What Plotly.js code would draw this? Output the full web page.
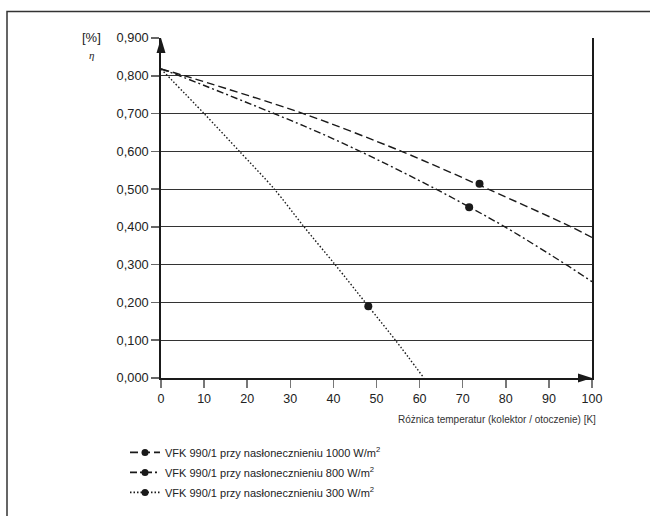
<!DOCTYPE html>
<html>
<head>
<meta charset="utf-8">
<script src="https://cdn.plot.ly/plotly-3.0.1.min.js"></script>
<style>html,body{margin:0;padding:0;background:#fff;}#chart{width:650px;height:516px;}</style>
</head>
<body>
<div id="chart"></div>
<script>
// Readings from the reference (ΔT in K, efficiency η)
var x1000 = [0, 5.5, 33, 55.8, 75.9, 95.2, 100];
var y1000 = [0.818, 0.8, 0.7, 0.6, 0.5, 0.4, 0.372];
var x800 = [0, 4.3, 33, 46.2, 63.8, 79.8, 94.0, 100];
var y800 = [0.818, 0.8, 0.668, 0.6, 0.5, 0.4, 0.3, 0.255];
var x300 = [0, 10, 18.2, 26.3, 33.2, 40.4, 48.1, 54.4, 61];
var y300 = [0.818, 0.7, 0.6, 0.5, 0.4, 0.3, 0.19, 0.1, 0];
var markerX = [73.9, 71.5, 48.1];
var markerY = [0.514, 0.452, 0.19];
var seriesNames = [
  'VFK 990/1 przy nasłonecznieniu 1000 W/m<sup>2</sup>',
  'VFK 990/1 przy nasłonecznieniu 800 W/m<sup>2</sup>',
  'VFK 990/1 przy nasłonecznieniu 300 W/m<sup>2</sup>'
];
var xTicks = [0, 10, 20, 30, 40, 50, 60, 70, 80, 90, 100];
var yTicks = [0, 0.1, 0.2, 0.3, 0.4, 0.5, 0.6, 0.7, 0.8, 0.9];
var xTitle = 'Różnica temperatur (kolektor / otoczenie) [K]';

var ink = '#1a1a1a';
var dashes = ['8px,4px', '7px,3px,2px,3px', '1.5px,2px'];
var xs = [x1000, x800, x300], ys = [y1000, y800, y300];

var data = [];
for (var i = 0; i < 3; i++) {
  data.push({x: xs[i], y: ys[i], mode: 'lines', type: 'scatter', showlegend: false,
    line: {color: ink, width: 1.4, dash: dashes[i], shape: 'spline', smoothing: 0.8},
    hoverinfo: 'skip'});
}
data.push({x: markerX, y: markerY, mode: 'markers', type: 'scatter', showlegend: false,
  marker: {color: ink, size: 8}});
for (var j = 0; j < 3; j++) {
  data.push({x: [null], y: [null], mode: 'lines+markers', type: 'scatter', name: seriesNames[j],
    legendgroup: 'g' + j,
    line: {color: ink, width: 1.6, dash: dashes[j]}, marker: {color: ink, size: 7}});
}

function px2x(p) { return (p - 161) / 431; }
function py2y(p) { return (378 - p) / 340.5; }

var layout = {
  width: 650, height: 516,
  margin: {l: 161, r: 58, t: 37.5, b: 138, autoexpand: false},
  paper_bgcolor: '#fff', plot_bgcolor: '#fff',
  font: {family: 'Liberation Sans, Arial, sans-serif', color: '#222', size: 12},
  separators: ', ',
  xaxis: {range: [0, 100], tickvals: xTicks, ticks: 'outside', ticklen: 8, tickwidth: 1.5,
    tickcolor: '#777', showgrid: false, zeroline: false, showline: true, linecolor: ink,
    linewidth: 1.5, tickfont: {size: 12.5, color: '#222'}, fixedrange: true, automargin: false},
  yaxis: {range: [0, 0.9], tickvals: yTicks, tickformat: '.3f', ticks: 'outside', ticklen: 8,
    tickwidth: 1.5, tickcolor: '#666', showgrid: true, gridcolor: '#333', gridwidth: 1,
    zeroline: false, showline: true, mirror: true, linecolor: ink, linewidth: 1.8,
    tickfont: {size: 12.8, color: '#222'}, fixedrange: true, automargin: false},
  showlegend: true,
  legend: {x: px2x(125), y: py2y(438), xanchor: 'left', yanchor: 'top', bgcolor: 'rgba(0,0,0,0)',
    font: {size: 11, color: '#222'}, tracegroupgap: 1, traceorder: 'grouped'},
  annotations: [
    {xref: 'paper', yref: 'paper', x: px2x(91), y: py2y(37), text: '[%]', showarrow: false,
      xanchor: 'center', yanchor: 'middle', font: {size: 13, color: '#222'}},
    {xref: 'paper', yref: 'paper', x: px2x(91), y: py2y(55), text: '<i>η</i>', showarrow: false,
      xanchor: 'center', yanchor: 'middle', font: {size: 11, color: '#222', family: 'Liberation Serif, serif'}},
    {xref: 'paper', yref: 'paper', x: px2x(598), y: py2y(420), text: xTitle, showarrow: false,
      xanchor: 'right', yanchor: 'middle', font: {size: 10, color: '#333'}}
  ],
  shapes: [
    {type: 'path', xref: 'paper', yref: 'paper', xsizemode: 'pixel', ysizemode: 'pixel', xanchor: 0, yanchor: 1,
      path: 'M -4.5 -15 L 0 0 L 4.5 -15 Z', fillcolor: ink, line: {width: 0}},
    {type: 'path', xref: 'paper', yref: 'paper', xsizemode: 'pixel', ysizemode: 'pixel', xanchor: 1, yanchor: 0,
      path: 'M -14 4.5 L 0 0 L -14 -4.5 Z', fillcolor: ink, line: {width: 0}},
    {type: 'rect', xref: 'paper', yref: 'paper', x0: px2x(7), x1: px2x(700), y0: py2y(560), y1: py2y(11),
      line: {color: '#333', width: 1.5}, fillcolor: 'rgba(0,0,0,0)'}
  ]
};
Plotly.newPlot('chart', data, layout, {displayModeBar: false, staticPlot: true});
</script>
</body>
</html>
